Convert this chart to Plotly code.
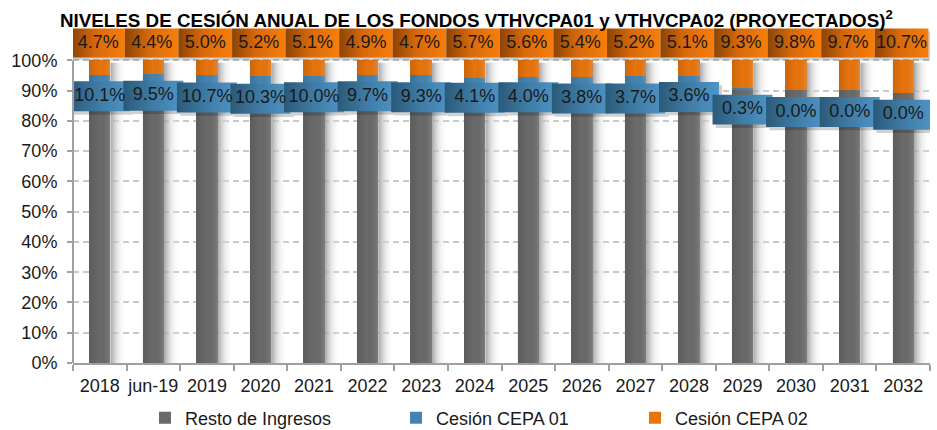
import plotly.graph_objects as go

# ---------------- data ----------------
categories = ["2018", "jun-19", "2019", "2020", "2021", "2022", "2023", "2024",
              "2025", "2026", "2027", "2028", "2029", "2030", "2031", "2032"]
resto_ingresos = [85.2, 86.1, 84.3, 84.5, 84.9, 85.4, 86.0, 90.2,
                  90.4, 90.8, 91.1, 91.3, 90.4, 90.2, 90.3, 89.3]
cesion_cepa01 = [10.1, 9.5, 10.7, 10.3, 10.0, 9.7, 9.3, 4.1,
                 4.0, 3.8, 3.7, 3.6, 0.3, 0.0, 0.0, 0.0]
cesion_cepa02 = [4.7, 4.4, 5.0, 5.2, 5.1, 4.9, 4.7, 5.7,
                 5.6, 5.4, 5.2, 5.1, 9.3, 9.8, 9.7, 10.7]
y_tick_values = [0, 10, 20, 30, 40, 50, 60, 70, 80, 90, 100]
y_tick_labels = ["0%", "10%", "20%", "30%", "40%", "50%", "60%", "70%", "80%", "90%", "100%"]
series_names = ["Resto de Ingresos", "Cesión CEPA 01", "Cesión CEPA 02"]

# ---------------- layout / style ----------------
FONT = "Liberation Sans, Arial, sans-serif"
TXT = "#1a1a1a"
GREY = "#6a6a6a"
BLUE = "#4584b0"
ORANGE = "#e8740c"
AXIS = "#a0a0a0"
BAR_W = 0.4
W, H = 937, 430

# label-box placement (positions in axis units, not data)
label01_center_y = [88.1, 88.3, 87.7, 87.3, 87.8, 88.1, 87.8, 87.6,
                    87.8, 87.4, 87.4, 87.9, 83.7, 82.9, 82.9, 82.0]
label02_center_y = 105.7
box01_w, box01_h = 1.12, 9.9
box02_w, box02_h = 1.0, 9.6

blue_grad = [[0, "#2b5a79"], [0.5, "#3f7ca6"], [1, "#4f95c7"]]
orange_grad = [[0, "#8c4405"], [0.45, "#d8690a"], [1, "#f77e0a"]]
shadow_grad = [[0, "rgba(150,150,150,0.85)"], [0.45, "rgba(215,215,215,0.55)"],
               [1, "rgba(255,255,255,0)"]]
bar_sheen = [[0, "rgba(0,0,0,0.13)"], [0.5, "rgba(0,0,0,0)"], [1, "rgba(255,255,255,0.13)"]]

xs = list(range(len(categories)))
tops = [a + b + c for a, b, c in zip(resto_ingresos, cesion_cepa01, cesion_cepa02)]

fig = go.Figure()

# stacked bars
fig.add_trace(go.Bar(x=xs, y=resto_ingresos, name=series_names[0], width=BAR_W,
                     marker=dict(color=GREY, line=dict(width=0)), legend="legend"))
fig.add_trace(go.Bar(x=xs, y=cesion_cepa01, name=series_names[1], width=BAR_W,
                     marker=dict(color=BLUE, line=dict(width=0)), legend="legend2"))
fig.add_trace(go.Bar(x=xs, y=cesion_cepa02, name=series_names[2], width=BAR_W,
                     marker=dict(color=ORANGE, line=dict(width=0)), legend="legend3"))


def rect(cx, cy, w, h):
    return ([cx - w / 2, cx + w / 2, cx + w / 2, cx - w / 2, cx - w / 2],
            [cy - h / 2, cy - h / 2, cy + h / 2, cy + h / 2, cy - h / 2])


# horizontal sheen over each bar + shadow to its right
for i, t in zip(xs, tops):
    rx, ry = rect(i, t / 2, BAR_W, t)
    fig.add_trace(go.Scatter(x=rx, y=ry, mode="none", fill="toself",
                             fillgradient=dict(type="horizontal", colorscale=bar_sheen),
                             showlegend=False, hoverinfo="skip"))
    x0 = i + BAR_W / 2
    sx = [x0, x0 + 0.3, x0 + 0.3, x0, x0]
    sy = [0, 0, t - 0.8, t - 0.8, 0]
    fig.add_trace(go.Scatter(x=sx, y=sy, mode="none", fill="toself",
                             fillgradient=dict(type="horizontal", colorscale=shadow_grad),
                             showlegend=False, hoverinfo="skip"))

# box drop-shadows
shx, shy = [], []
for i, cy in zip(xs, label01_center_y):
    rx, ry = rect(i + 0.06, cy - 1.1, box01_w, box01_h)
    shx += rx + [None]
    shy += ry + [None]
for i in xs:
    rx, ry = rect(i + 0.0, label02_center_y - 0.9, box02_w, box02_h)
    shx += rx + [None]
    shy += ry + [None]
fig.add_trace(go.Scatter(x=shx, y=shy, mode="none", fill="toself",
                         fillcolor="rgba(0,0,0,0.18)", showlegend=False, hoverinfo="skip"))

# orange label boxes
for i in xs:
    rx, ry = rect(i - 0.03, label02_center_y, box02_w, box02_h)
    fig.add_trace(go.Scatter(x=rx, y=ry, mode="none", fill="toself",
                             fillgradient=dict(type="horizontal", colorscale=orange_grad),
                             showlegend=False, hoverinfo="skip"))
# blue label boxes
for i, cy in zip(xs, label01_center_y):
    rx, ry = rect(i, cy, box01_w, box01_h)
    fig.add_trace(go.Scatter(x=rx, y=ry, mode="none", fill="toself",
                             fillgradient=dict(type="horizontal", colorscale=blue_grad),
                             showlegend=False, hoverinfo="skip"))

# label texts
fig.add_trace(go.Scatter(x=[i - 0.03 for i in xs], y=[label02_center_y] * len(xs), mode="text",
                         text=[f"{v:.1f}%" for v in cesion_cepa02],
                         textfont=dict(family=FONT, size=18, color=TXT),
                         showlegend=False, hoverinfo="skip"))
fig.add_trace(go.Scatter(x=xs, y=label01_center_y, mode="text",
                         text=[f"{v:.1f}%" for v in cesion_cepa01],
                         textfont=dict(family=FONT, size=18, color=TXT),
                         showlegend=False, hoverinfo="skip"))

legend_common = dict(orientation="h", xanchor="left", yanchor="middle",
                     xref="container", yref="container", y=1 - 418 / H,
                     font=dict(family=FONT, size=18, color=TXT),
                     bgcolor="rgba(0,0,0,0)", itemwidth=30)

fig.update_layout(
    width=W, height=H,
    margin=dict(l=73, r=7, t=27, b=67, autoexpand=False),
    paper_bgcolor="white", plot_bgcolor="white",
    barmode="stack",
    font=dict(family=FONT, size=18, color=TXT),
    title=dict(text="<b>NIVELES DE CESIÓN ANUAL DE LOS FONDOS VTHVCPA01 y VTHVCPA02 (PROYECTADOS)<sup>2</sup></b>",
               x=60 / W, xref="container", xanchor="left",
               y=1 - 20.5 / H, yref="container", yanchor="middle",
               font=dict(family=FONT, size=18.8, color="black")),
    xaxis=dict(range=[-0.5, len(categories) - 0.5], tickmode="array", tickvals=xs,
               ticktext=categories, ticks="", showgrid=False, zeroline=False,
               showline=True, linecolor=AXIS, linewidth=2, automargin=False,
               tickfont=dict(family=FONT, size=18, color=TXT), ticklabelstandoff=5,
               minor=dict(tickmode="array", tickvals=[i - 0.5 for i in xs] + [len(xs) - 0.5],
                          ticks="outside", ticklen=6, tickwidth=2, tickcolor=AXIS, showgrid=False),
               fixedrange=True),
    yaxis=dict(range=[0, 111], tickmode="array", tickvals=y_tick_values, ticktext=y_tick_labels,
               ticks="outside", ticklen=5, tickwidth=2, tickcolor=AXIS, automargin=False,
               showgrid=True, gridcolor="#c8c8c8", gridwidth=1.5, griddash="6px,4px",
               zeroline=False, showline=False,
               tickfont=dict(family=FONT, size=18, color=TXT), ticklabelstandoff=6,
               fixedrange=True),
    shapes=[dict(type="line", xref="paper", x0=0, x1=0, yref="y", y0=0, y1=100,
                 line=dict(color=AXIS, width=2), layer="above")],
    legend=dict(x=145 / W, **legend_common),
    legend2=dict(x=396 / W, **legend_common),
    legend3=dict(x=635 / W, **legend_common),
)

fig.write_html("out.html", config={"displayModeBar": False},
               post_script="document.body.style.margin='0';document.body.style.overflow='hidden';")
